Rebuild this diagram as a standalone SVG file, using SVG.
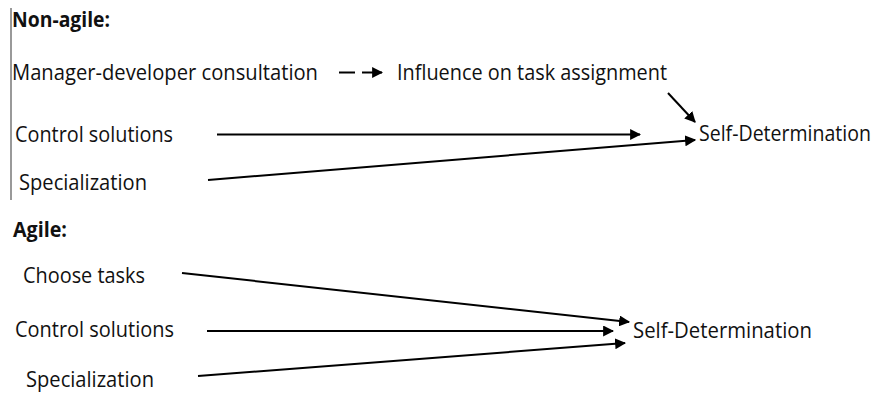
<svg xmlns="http://www.w3.org/2000/svg" width="877" height="393" viewBox="0 0 877 393">
  <style>
    .t { font-family: "Open Sans", "Liberation Sans", sans-serif; font-size: 21px; fill: #111; }
    .h { font-weight: bold; }
    .c { stroke: #000; stroke-width: 2; fill: none; }
  </style>
  <defs>
    <marker id="ah" viewBox="0 0 10 10" refX="9" refY="5" markerWidth="5.5" markerHeight="5.5" orient="auto" markerUnits="strokeWidth">
      <path d="M0,0 L10,5 L0,10 Z" fill="#000"/>
    </marker>
  </defs>

  <rect width="877" height="393" fill="#fff"/>

  <!-- margin rule of the non-agile block -->
  <line x1="11" y1="8" x2="11" y2="200" stroke="#777" stroke-width="1.5"/>

  <!-- non-agile block -->
  <text class="t h" x="12" y="27" textLength="98" lengthAdjust="spacingAndGlyphs">Non-agile:</text>
  <g id="consultation"><text class="t" x="12" y="80" textLength="306" lengthAdjust="spacingAndGlyphs">Manager-developer consultation</text></g>
  <g id="influence"><text class="t" x="397" y="80" textLength="270" lengthAdjust="spacingAndGlyphs">Influence on task assignment</text></g>
  <g id="control1"><text class="t" x="15" y="142" textLength="158" lengthAdjust="spacingAndGlyphs">Control solutions</text></g>
  <g id="special1"><text class="t" x="19" y="190" textLength="128" lengthAdjust="spacingAndGlyphs">Specialization</text></g>
  <!-- slightly smaller so the label stays inside the canvas -->
  <g id="selfdet1"><text class="t" x="699" y="141" font-size="17.6" textLength="172" lengthAdjust="spacingAndGlyphs">Self-Determination</text></g>

  <!-- agile block -->
  <text class="t h" x="13" y="237" textLength="54" lengthAdjust="spacingAndGlyphs">Agile:</text>
  <g id="choose"><text class="t" x="23" y="283" textLength="122" lengthAdjust="spacingAndGlyphs">Choose tasks</text></g>
  <g id="control2"><text class="t" x="15" y="337" textLength="159" lengthAdjust="spacingAndGlyphs">Control solutions</text></g>
  <g id="special2"><text class="t" x="26" y="387" textLength="128" lengthAdjust="spacingAndGlyphs">Specialization</text></g>
  <g id="selfdet2"><text class="t" x="633" y="338" textLength="179" lengthAdjust="spacingAndGlyphs">Self-Determination</text></g>

  <g id="connectors">
    <!-- dashed link: dash then short arrow -->
    <line class="c" x1="339" y1="72.5" x2="355" y2="72.5"/>
    <line class="c" x1="362" y1="72.5" x2="382" y2="72.5" marker-end="url(#ah)"/>
    <line class="c" x1="668" y1="93" x2="695" y2="122" marker-end="url(#ah)"/>
    <line class="c" x1="217" y1="134.5" x2="640" y2="134.5" marker-end="url(#ah)"/>
    <line class="c" x1="208" y1="180" x2="695" y2="140" marker-end="url(#ah)"/>

    <line class="c" x1="182" y1="273" x2="629" y2="322" marker-end="url(#ah)"/>
    <line class="c" x1="207" y1="331" x2="613" y2="331" marker-end="url(#ah)"/>
    <line class="c" x1="198" y1="376" x2="625" y2="343" marker-end="url(#ah)"/>
  </g>
</svg>
